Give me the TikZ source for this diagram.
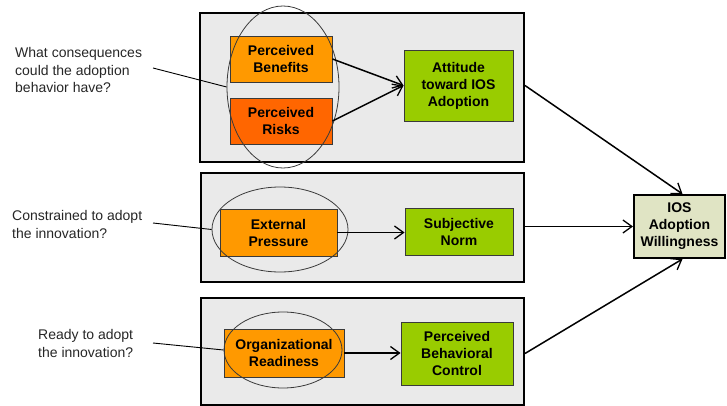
\documentclass[tikz,border=0pt]{standalone}
\usepackage{fontspec}
\setmainfont{Liberation Sans}
\usetikzlibrary{arrows.meta,shapes.geometric}
\definecolor{panelgray}{HTML}{EAEAEA}
\definecolor{orangeA}{HTML}{FF9900}
\definecolor{orangeB}{HTML}{FF6600}
\definecolor{greenA}{HTML}{99CC00}
\definecolor{khaki}{HTML}{E0E4C4}
\definecolor{edgegray}{HTML}{3A3A3A}
\tikzset{
  panel/.style={draw=black, line width=2pt, fill=panelgray, inner sep=0pt},
  box/.style={draw=edgegray, line width=0.9pt, inner sep=0pt, align=center,
    font=\fontsize{14}{17}\selectfont\bfseries},
  obox/.style={box, fill=orangeA},
  rbox/.style={box, fill=orangeB},
  gbox/.style={box, fill=greenA},
  ibox/.style={box, draw=black, line width=2pt, fill=khaki},
  ring/.style={ellipse, draw=edgegray, line width=0.8pt, inner sep=0pt},
  question/.style={align=left, inner sep=0pt, anchor=west,
    font=\fontsize{14}{17.5}\selectfont, text=black!85},
  arr/.style={line width=1.5pt, -{Straight Barb[length=9pt,width=13pt,line width=1.3pt]}},
  pointer/.style={line width=0.9pt, draw=black}
}
\begin{document}
\begin{tikzpicture}[x=1pt,y=-1pt]
\useasboundingbox (0,0) rectangle (727,406);
% panels
\node[panel, minimum width=324pt, minimum height=149pt] (p1) at (362,87.5) {};
\node[panel, minimum width=323pt, minimum height=109pt] (p2) at (362.5,227.5) {};
\node[panel, minimum width=323pt, minimum height=107pt] (p3) at (362.5,351.5) {};
% boxes
\node[obox, minimum width=102pt, minimum height=46pt] (ben) at (281,59) {Perceived\\Benefits};
\node[rbox, minimum width=102pt, minimum height=46pt] (risk) at (281,121) {Perceived\\Risks};
\node[gbox, minimum width=109pt, minimum height=71pt] (att) at (458.5,85.5) {Attitude\\toward IOS\\Adoption};
\node[obox, minimum width=117pt, minimum height=47pt] (ext) at (278.5,232.5) {External\\Pressure};
\node[gbox, minimum width=108pt, minimum height=47pt] (norm) at (459,231.5) {Subjective\\Norm};
\node[obox, minimum width=120pt, minimum height=48pt] (org) at (284,353) {Organizational\\Readiness};
\node[gbox, minimum width=112pt, minimum height=63pt] (pbc) at (457,353.5) {Perceived\\Behavioral\\Control};
\node[ibox, minimum width=91pt, minimum height=63pt] (ios) at (679.5,226.5) {IOS\\Adoption\\Willingness};
% ellipses
\node[ring, minimum width=112pt, minimum height=162pt] (e1) at (283,87) {};
\node[ring, minimum width=136pt, minimum height=85pt] (e2) at (280,229.5) {};
\node[ring, minimum width=118pt, minimum height=76pt] (e3) at (283,350) {};
% questions
\node[question] (q1) at (15,70) {What consequences\\could the adoption\\behavior have?};
\node[question] (q2) at (12,224.5) {Constrained to adopt\\the innovation?};
\node[question] (q3) at (38,343.5) {Ready to adopt\\the innovation?};
\coordinate (c1) at (153,68);
\coordinate (c2) at (153,223);
\coordinate (c3) at (153,343);
\draw[pointer] (c1) -- (e1.west);
\draw[pointer] (c2) -- (e2.west);
\draw[pointer] (c3) -- (e3.west);
% arrows
\draw[arr] (ben.east) -- (att.west);
\draw[arr] (risk.east) -- (att.west);
\draw[arr] (ext.east) -- (ext.east -| norm.west);
\draw[arr] (org.east) -- (org.east -| pbc.west);
\draw[arr] (att.east -| p1.east) -- ([xshift=3pt]ios.north);
\draw[arr] (ios.west -| p2.east) -- (ios.west);
\draw[arr] (pbc.east -| p3.east) -- ([xshift=3pt]ios.south);
\end{tikzpicture}
\end{document}
